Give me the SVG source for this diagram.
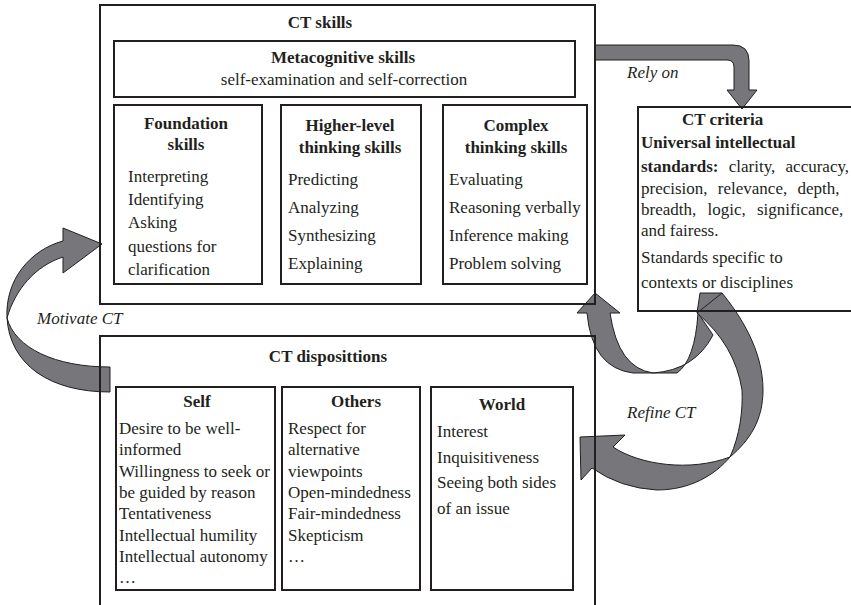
<svg xmlns="http://www.w3.org/2000/svg" width="851" height="605" viewBox="0 0 851 605">
<style>
.box{fill:none;stroke:#231f20;stroke-width:2}
.arr{fill:#77777b;stroke:#231f20;stroke-width:1;stroke-linejoin:round}
.t{font-family:"Liberation Serif","Times New Roman",serif;font-size:17px;fill:#231f20}
.b{font-weight:bold}
.c{text-anchor:middle}
.i{font-style:italic}
</style>
<rect width="851" height="605" fill="#ffffff"/>
<g id="connectors">
  <g id="rely-on">
    <path class="arr" d="M595,45 H733 Q749,45 749,61 V90 H757 L742,109 L727,90 H734 V67 Q734,60 727,60 H595 Z"/>
    <text class="t i" x="627" y="78">Rely on</text>
  </g>
  <g id="motivate">
    <path class="arr" d="M110,367 C55,367 15,348 7,318 C15,290 35,266 63,257 L63,273 L102,244 L63,228 L63,241 C30,250 5,280 7,318 C10,365 50,392 110,392 Z"/>
    <text class="t i" x="37" y="324">Motivate CT</text>
  </g>
  <g id="refine">
    <path class="arr" d="M698,313 Q695,360 677,373 L633,373 Q592,368 587,313 L577,313 L595,293 L620,313 L610,313 Q618,368 653,373 Q695,370 713,335 Z"/>
    <path class="arr" d="M700,293 L722,293 C740,315 763,350 763,390 C763,420 750,440 730,457 C715,475 690,490 657,490 Q620,488 592,468 L581,480 L580,437 L625,435 L613,447 C640,465 690,472 730,457 C740,435 743,410 742,390 Q735,345 697,313 Z"/>
    <path class="arr" d="M722,293 L697,313" fill="none"/>
    <text class="t i" x="627" y="418">Refine CT</text>
  </g>
</g>
<g id="ct-skills">
  <rect class="box" x="100" y="5" width="495" height="299"/>
  <text class="t b c" x="320" y="28">CT skills</text>
</g>
<g id="metacognitive">
  <rect class="box" x="114" y="41" width="461" height="56"/>
  <text class="t b c" x="343" y="63">Metacognitive skills</text>
  <text class="t c" x="344" y="85">self-examination and self-correction</text>
</g>
<g id="foundation">
  <rect class="box" x="114" y="105" width="148" height="179"/>
  <text class="t b c" x="186" y="129">Foundation</text>
  <text class="t b c" x="186" y="150">skills</text>
  <text class="t" x="128" y="182">Interpreting</text>
  <text class="t" x="128" y="205">Identifying</text>
  <text class="t" x="128" y="228">Asking</text>
  <text class="t" x="128" y="252">questions for</text>
  <text class="t" x="128" y="275">clarification</text>
</g>
<g id="higher-level">
  <rect class="box" x="281" y="105" width="140" height="179"/>
  <text class="t b c" x="350" y="131">Higher-level</text>
  <text class="t b c" x="350" y="153">thinking skills</text>
  <text class="t" x="288" y="185">Predicting</text>
  <text class="t" x="288" y="213">Analyzing</text>
  <text class="t" x="288" y="241">Synthesizing</text>
  <text class="t" x="288" y="269">Explaining</text>
</g>
<g id="complex">
  <rect class="box" x="443" y="105" width="144" height="179"/>
  <text class="t b c" x="516" y="131">Complex</text>
  <text class="t b c" x="516" y="153">thinking skills</text>
  <text class="t" x="449" y="185">Evaluating</text>
  <text class="t" x="449" y="213">Reasoning verbally</text>
  <text class="t" x="449" y="241">Inference making</text>
  <text class="t" x="449" y="269">Problem solving</text>
</g>
<g id="ct-criteria">
  <rect class="box" x="638" y="107" width="222" height="204"/>
  <text class="t b" x="682" y="125">CT criteria</text>
  <text class="t b" x="641" y="148">Universal intellectual</text>
  <text class="t" x="641" y="172" word-spacing="6"><tspan class="b">standards:</tspan> clarity, accuracy,</text>
  <text class="t" x="641" y="194" word-spacing="6">precision, relevance, depth,</text>
  <text class="t" x="641" y="215" word-spacing="7">breadth, logic, significance,</text>
  <text class="t" x="641" y="236">and fairess.</text>
  <text class="t" x="641" y="263">Standards specific to</text>
  <text class="t" x="641" y="288">contexts or disciplines</text>
</g>
<g id="ct-dispositions">
  <rect class="box" x="100" y="336" width="495" height="290"/>
  <text class="t b c" x="328" y="362">CT disposittions</text>
</g>
<g id="self">
  <rect class="box" x="116" y="387" width="159" height="203"/>
  <text class="t b c" x="197" y="407">Self</text>
  <text class="t" x="119" y="434">Desire to be well-</text>
  <text class="t" x="119" y="455">informed</text>
  <text class="t" x="119" y="477">Willingness to seek or</text>
  <text class="t" x="119" y="498">be guided by reason</text>
  <text class="t" x="119" y="519">Tentativeness</text>
  <text class="t" x="119" y="541">Intellectual humility</text>
  <text class="t" x="119" y="562">Intellectual autonomy</text>
  <text class="t" x="119" y="583">…</text>
</g>
<g id="others">
  <rect class="box" x="282" y="387" width="138" height="203"/>
  <text class="t b c" x="356" y="407">Others</text>
  <text class="t" x="288" y="434">Respect for</text>
  <text class="t" x="288" y="455">alternative</text>
  <text class="t" x="288" y="477">viewpoints</text>
  <text class="t" x="288" y="498">Open-mindedness</text>
  <text class="t" x="288" y="519">Fair-mindedness</text>
  <text class="t" x="288" y="541">Skepticism</text>
  <text class="t" x="288" y="562">…</text>
</g>
<g id="world">
  <rect class="box" x="431" y="387" width="142" height="203"/>
  <text class="t b c" x="502" y="410">World</text>
  <text class="t" x="437" y="437">Interest</text>
  <text class="t" x="437" y="463">Inquisitiveness</text>
  <text class="t" x="437" y="488">Seeing both sides</text>
  <text class="t" x="437" y="514">of an issue</text>
</g>
</svg>
